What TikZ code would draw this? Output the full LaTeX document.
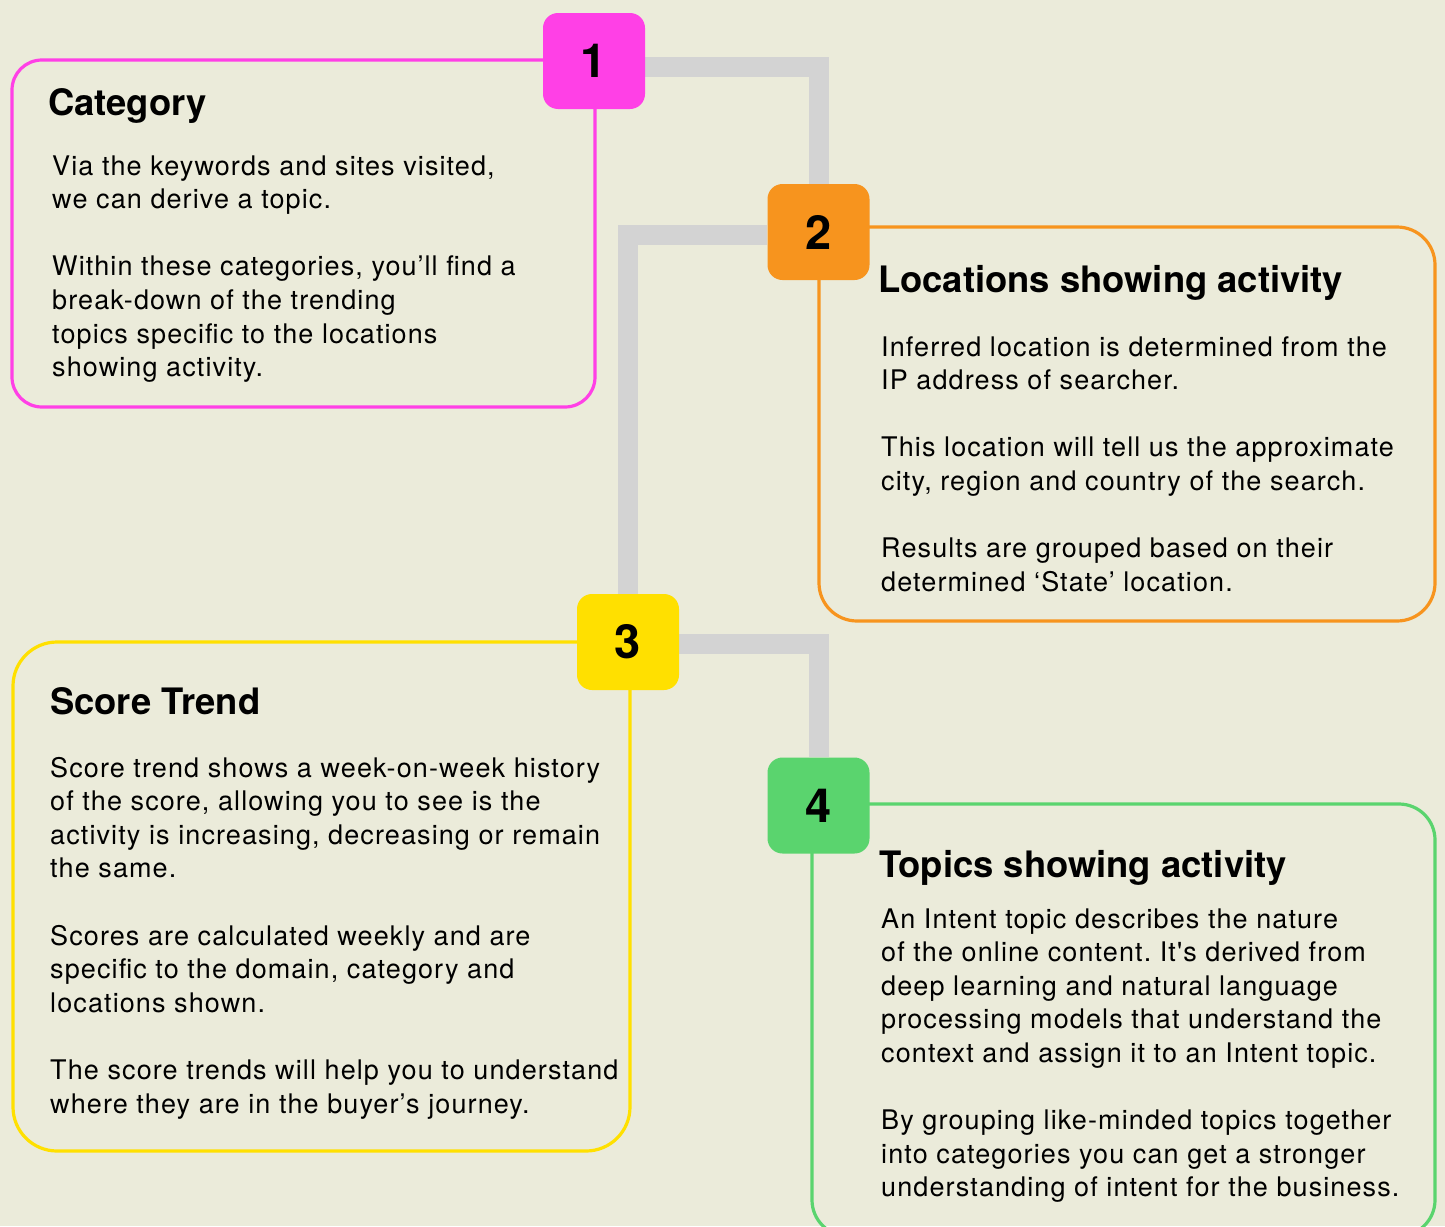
\documentclass[tikz,border=0pt]{standalone}
\usepackage{fontspec}
\setmainfont{TeX Gyre Heros}
\newfontfamily\bodyfont{TeX Gyre Heros}[LetterSpace=4.1]
\usetikzlibrary{backgrounds, positioning}
\definecolor{paper}{RGB}{235,235,218}
\definecolor{pinkc}{RGB}{255,64,230}
\definecolor{orangec}{RGB}{247,148,30}
\definecolor{yellowc}{RGB}{255,224,0}
\definecolor{greenc}{RGB}{90,212,110}
\definecolor{linkc}{RGB}{211,211,211}
\frenchspacing

\begin{document}
\begin{tikzpicture}[
  x=1pt, y=-1pt,
  card/.style={draw=#1, line width=3.2pt, rounded corners=34pt, anchor=north west, inner sep=0pt, outer sep=0pt},
  badge/.style={fill=#1, rounded corners=15pt, minimum width=102pt, minimum height=96pt, inner sep=0pt,
    font=\fontsize{47}{47}\selectfont\bfseries},
  head/.style={anchor=base west, inner sep=0pt, font=\fontsize{36.4}{40}\selectfont\bfseries},
  body/.style={anchor=base west, inner sep=0pt, align=left, font=\bodyfont\fontsize{27}{33.6}\selectfont},
  link/.style={draw=linkc, line width=20pt, line join=miter}
]

\useasboundingbox (0,0) rectangle (1445,1226);
\begin{scope}[on background layer]
\fill[paper] (0,0) rectangle (1445,1226);
\end{scope}

\node[card=pinkc, minimum width=583pt, minimum height=347pt, rounded corners=30pt] (card1) at (12,60) {};
\node[card=orangec, minimum width=616pt, minimum height=394pt, rounded corners=38pt] (card2) at (819,227) {};
\node[card=yellowc, minimum width=617pt, minimum height=509pt, rounded corners=44pt] (card3) at (13,642) {};
\node[card=greenc, minimum width=623pt, minimum height=432pt, rounded corners=36pt] (card4) at (812,804) {};

% body anchors sit on the last baseline
\node[head] (title1) at (48,115) {Category};
\node[body] (text1) at (52,376.6) {Via the keywords and sites visited,\\
we can derive a topic.\\[33.6pt]
Within these categories, you’ll find a\\
break-down of the trending\\
topics specific to the locations\\
showing activity.};

\node[head] (title2) at (878,292) {Locations showing activity};
\node[body] (text2) at (881,591.2) {Inferred location is determined from the\\
IP address of searcher.\\[33.6pt]
This location will tell us the approximate\\
city, region and country of the search.\\[33.6pt]
Results are grouped based on their\\
determined ‘State’ location.};

\node[head] (title3) at (50,714) {Score Trend};
\node[body] (text3) at (50,1113) {Score trend shows a week-on-week history\\
of the score, allowing you to see is the\\
activity is increasing, decreasing or remain\\
the same.\\[33.6pt]
Scores are calculated weekly and are\\
specific to the domain, category and\\
locations shown.\\[33.6pt]
The score trends will help you to understand\\
where they are in the buyer’s journey.};

\node[head] (title4) at (879,877) {Topics showing activity};
\node[body] (text4) at (881,1196.8) {An Intent topic describes the nature\\
of the online content. It's derived from\\
deep learning and natural language\\
processing models that understand the\\
context and assign it to an Intent topic.\\[33.6pt]
By grouping like-minded topics together\\
into categories you can get a stronger\\
understanding of intent for the business.};

\node[badge=pinkc] (b1) at (594,61) {1};
\node[badge=orangec] (b2) at (818.5,232) {2};
\node[badge=yellowc] (b3) at (628,642) {3};
\node[badge=greenc] (b4) at (818.5,805.5) {4};

\begin{scope}[on background layer]
\draw[link] ([yshift=-5.5pt]b1.east) -| (b2.north);
\draw[link] ([yshift=-3pt]b2.west) -| (b3.north);
\draw[link] ([yshift=-1.5pt]b3.east) -| (b4.north);
\end{scope}

\end{tikzpicture}
\end{document}
